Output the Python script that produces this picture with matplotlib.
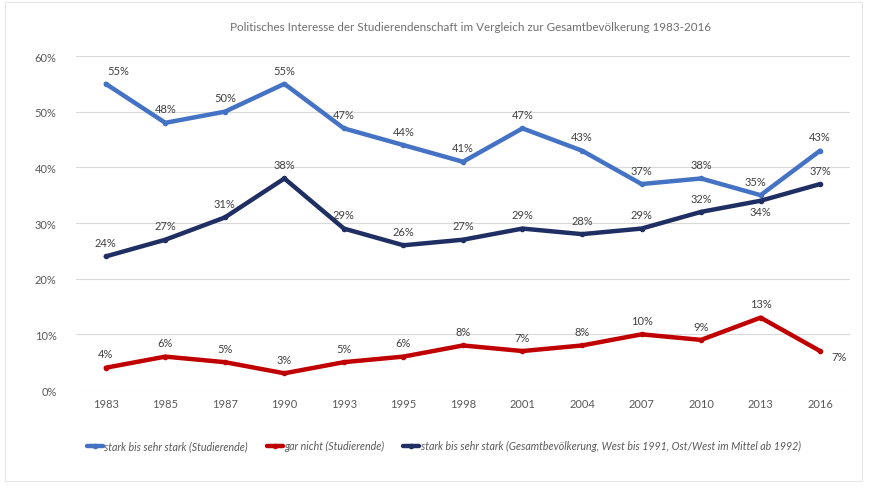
import matplotlib.pyplot as plt
from matplotlib.patches import Rectangle
from matplotlib.ticker import PercentFormatter

plt.rcParams['font.family'] = ['Lato', 'DejaVu Sans']

years = ['1983', '1985', '1987', '1990', '1993', '1995', '1998', '2001', '2004', '2007', '2010', '2013', '2016']
studierende_stark = [55, 48, 50, 55, 47, 44, 41, 47, 43, 37, 38, 35, 43]
studierende_gar_nicht = [4, 6, 5, 3, 5, 6, 8, 7, 8, 10, 9, 13, 7]
bevoelkerung_stark = [24, 27, 31, 38, 29, 26, 27, 29, 28, 29, 32, 34, 37]

labels = ['stark bis sehr stark (Studierende)',
          'gar nicht (Studierende)',
          'stark bis sehr stark (Gesamtbevölkerung, West bis 1991, Ost/West im Mittel ab 1992)']
colors = ['#4472C4', '#C00000', '#1F2F63']
series = [studierende_stark, studierende_gar_nicht, bevoelkerung_stark]

# label offsets (points) that differ from the default "above"
special = {
    (0, 0): (9, 6),
    (0, 11): (-4, 6),
    (1, 12): (14, -4),
    (2, 11): (0, -4),
}

fig = plt.figure(figsize=(8.69, 4.89), dpi=100)
ax = fig.add_axes([0.0875, 0.2004, 0.8905, 0.683])
x = list(range(len(years)))

for i, (vals, col, lab) in enumerate(zip(series, colors, labels)):
    ax.plot(x, vals, color=col, lw=3.2, label=lab, solid_capstyle='round',
            marker='o', markersize=3, zorder=3)
    for j, v in enumerate(vals):
        dx, dy = special.get((i, j), (0, 6))
        if dy > 0:
            va = 'bottom'
        elif (i, j) == (1, 12):
            va = 'center'
        else:
            va = 'top'
        ax.annotate(f'{v}%', (j, v), xytext=(dx, dy), textcoords='offset points',
                    ha='center', va=va, fontsize=8, color='#404040')

ax.set_xlim(-0.5, len(years) - 0.5)
ax.set_ylim(0, 60)
ax.set_yticks(range(0, 61, 10))
ax.yaxis.set_major_formatter(PercentFormatter(decimals=0))
ax.set_xticks(x)
ax.set_xticklabels(years)
ax.tick_params(length=0, labelsize=8, colors='#595959')
ax.tick_params(axis='y', pad=14)
ax.tick_params(axis='x', pad=6)
ax.grid(axis='y', color='#D9D9D9', lw=0.8)
ax.set_axisbelow(True)
for s in ax.spines.values():
    s.set_visible(False)

fig.text(0.541, 0.943, 'Politisches Interesse der Studierendenschaft im Vergleich zur Gesamtbevölkerung 1983-2016',
         ha='center', va='center', fontsize=8.4, color='#6E6E6E')

fig.legend(loc='lower left', bbox_to_anchor=(0.089, 0.055), ncol=3, frameon=False,
           prop={'style': 'italic', 'size': 7.7}, labelcolor='#595959',
           handlelength=1.5, handletextpad=0.1, columnspacing=1.8)

fig.patches.append(Rectangle((0.006, 0.014), 0.986, 0.98, transform=fig.transFigure,
                             fill=False, ec='#E6E6E6', lw=0.8))

fig.savefig('out.png', dpi=100)
